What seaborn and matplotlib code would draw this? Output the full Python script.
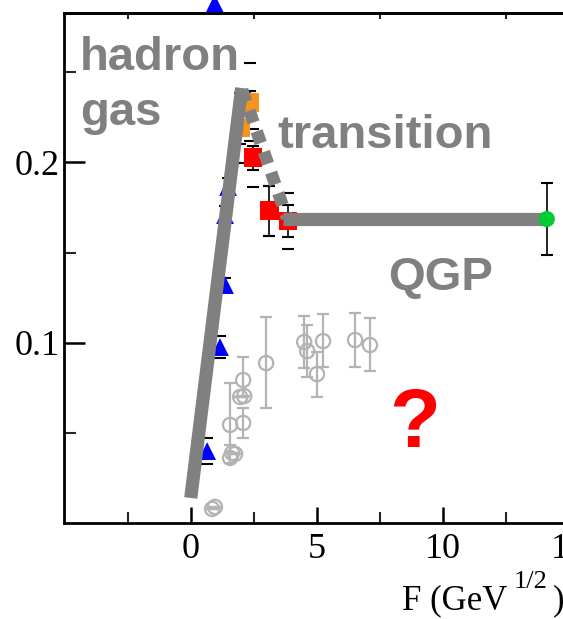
import numpy as np
import pandas as pd
import matplotlib
matplotlib.use("Agg")
import matplotlib.pyplot as plt
import seaborn as sns

# ---------------- data ----------------
# blue triangles
tri_x = [1.48, 1.36, 1.36, 1.16, 0.65, 0.95]
tri_y = [0.1864, 0.1708, 0.1320, 0.0976, 0.0399, 0.2882]
tri_err = [0.005, 0.005, 0.004, 0.006, 0.007, 0.005]
# orange squares
org_x = [2.35, 1.96]
org_y = [0.2335, 0.2191]
org_err = [0.006, 0.009]
org_sys = [0.0216, 0.0194]
# red squares
red_x = [2.47, 3.11, 3.86]
red_y = [0.2025, 0.1731, 0.1675]
red_err = [0.0065, 0.0138, 0.0088]
red_sys = [0.016, 0.0138, 0.0155]
# green point
grn_x = [14.13]
grn_y = [0.1686]
grn_err = [0.020]
# gray open circles
circ_x = [2.99, 1.56, 2.08, 1.96, 2.12, 2.08, 1.64, 1.76, 1.56,
          4.50, 4.62, 5.01, 5.25, 6.52, 7.11, 0.96, 0.85]
circ_y = [0.0887, 0.0544, 0.0793, 0.0699, 0.0704, 0.0555, 0.0388, 0.0383, 0.0361,
          0.1004, 0.0954, 0.0826, 0.1009, 0.1015, 0.0987, 0.0089, 0.0078]
circ_err_lo = [0.0250, 0.0111, 0.0094, 0.0, 0.0, 0.0083, 0.0, 0.0, 0.0030,
               0.0144, 0.0144, 0.0128, 0.0144, 0.0150, 0.0144, 0.0, 0.0]
circ_err_hi = [0.0255, 0.0233, 0.0128, 0.0, 0.0, 0.0083, 0.0, 0.0, 0.0030,
               0.0144, 0.0144, 0.0122, 0.0150, 0.0150, 0.0150, 0.0, 0.0]
# schematic lines
hg_x = [0.00, 2.02]
hg_y = [0.0139, 0.2413]
tr_x = [2.04, 3.82]
tr_y = [0.2402, 0.1692]
qgp_x = [3.66, 14.13]
qgp_y = [0.1686, 0.1686]

x_ticks = [0, 5, 10, 15]
x_ticklabels = ["0", "5", "10", "15"]
y_ticks = [0.1, 0.2]
y_ticklabels = ["0.1", "0.2"]

# ---------------- figure ----------------
sns.set_theme(style="ticks")
plt.rcParams["font.family"] = ["Liberation Serif", "DejaVu Serif"]

W, H = 563, 619
fig = plt.figure(figsize=(W / 100, H / 100), dpi=100)
X0, X1 = -5.03, 17.0
PXU = 25.2
ax = fig.add_axes([64 / W, (H - 523) / H, (X1 - X0) * PXU / W, 510 / H])
ax.set_xlim(X0, X1)
ax.set_ylim(0, 0.2829)

GRAY = "#808080"
CGRAY = "#b3b3b3"

# gray circles with error bars
ax.errorbar(circ_x, circ_y, yerr=[circ_err_lo, circ_err_hi], fmt="none",
            ecolor=CGRAY, elinewidth=1.6, capsize=4.5, capthick=1.6, zorder=2)
sns.scatterplot(x=circ_x, y=circ_y, ax=ax, marker="o", s=105,
                facecolor="none", edgecolor=CGRAY, linewidth=1.6, zorder=3)

# blue triangles
ax.errorbar(tri_x, tri_y, yerr=tri_err, fmt="none", ecolor="black",
            elinewidth=0.0, capsize=4, capthick=1.5, zorder=2)
sns.scatterplot(x=tri_x, y=tri_y, ax=ax, marker="^", s=165, color="#0000ff",
                edgecolor="none", zorder=3, clip_on=False)

# orange squares
ax.errorbar(org_x, org_y, yerr=org_sys, fmt="none", ecolor="black",
            elinewidth=0.0, capsize=4.5, capthick=1.5, zorder=2)
ax.errorbar(org_x, org_y, yerr=org_err, fmt="none", ecolor="black",
            elinewidth=1.2, capsize=4.5, capthick=1.5, zorder=2)
sns.scatterplot(x=org_x, y=org_y, ax=ax, marker="s", s=185, color="#f7941d",
                edgecolor="none", zorder=3)

# red squares
ax.errorbar(red_x, red_y, yerr=red_sys, fmt="none", ecolor="black",
            elinewidth=0.0, capsize=4.5, capthick=1.5, zorder=2)
ax.errorbar(red_x, red_y, yerr=red_err, fmt="none", ecolor="black",
            elinewidth=1.2, capsize=4.5, capthick=1.5, zorder=2)
sns.scatterplot(x=red_x, y=red_y, ax=ax, marker="s", s=185, color="#ff0000",
                edgecolor="none", zorder=3)

# green point
ax.errorbar(grn_x, grn_y, yerr=grn_err, fmt="none", ecolor="black",
            elinewidth=1.2, capsize=4.5, capthick=1.5, zorder=2)
sns.scatterplot(x=grn_x, y=grn_y, ax=ax, marker="o", s=135, color="#00cc33",
                edgecolor="none", zorder=5)

# schematic lines
sns.lineplot(x=hg_x, y=hg_y, ax=ax, color=GRAY, linewidth=9.5,
             solid_capstyle="butt", zorder=4)
sns.lineplot(x=qgp_x, y=qgp_y, ax=ax, color=GRAY, linewidth=9.5,
             solid_capstyle="butt", zorder=4)
ax.plot(tr_x, tr_y, color=GRAY, linewidth=9.0, zorder=4,
        linestyle=(0, (1.0, 0.75)), dash_capstyle="butt")

# annotations
tkw = dict(family=["Liberation Sans", "DejaVu Sans"], fontweight="bold",
           color=GRAY, fontsize=34, zorder=6)
ax.text(-4.39, 0.2512, "hadron", ha="left", va="baseline", **tkw)
ax.text(-4.39, 0.2207, "gas", ha="left", va="baseline", **tkw)
ax.text(3.42, 0.2080, "transition", ha="left", va="baseline", **tkw)
ax.text(7.83, 0.1292, "QGP", ha="left", va="baseline", **tkw)
ax.text(8.90, 0.0544, "?", ha="center", va="center",
        family=["Liberation Sans", "DejaVu Sans"], fontweight="bold",
        color="#ff0000", fontsize=60, zorder=6)

# axes styling
for side in ["left", "bottom", "top", "right"]:
    ax.spines[side].set_linewidth(2.0)
    ax.spines[side].set_color("black")

ax.set_xticks(x_ticks)
ax.set_xticklabels(x_ticklabels)
ax.set_xticks([-2.5, 2.5, 7.5, 12.5], minor=True)
ax.set_yticks(y_ticks)
ax.set_yticklabels(y_ticklabels)
ax.set_yticks([0.05, 0.15, 0.25], minor=True)
ax.tick_params(axis="x", which="major", direction="in", length=11.5, width=1.8,
               labelsize=26, pad=7, top=False, colors="black")
ax.tick_params(axis="x", which="minor", direction="in", length=8, width=1.5,
               top=False)
ax.tick_params(axis="y", which="major", direction="in", length=15, width=1.8,
               labelsize=26, pad=3, right=False, colors="black")
ax.tick_params(axis="y", which="minor", direction="in", length=8.5, width=1.5,
               right=False)

sec = ax.secondary_xaxis("top")
sec.set_xticks([-2.5, 2.5, 7.5, 12.5])
sec.set_xticklabels([])
sec.tick_params(direction="in", length=4.5, width=1.5)
sec.spines["top"].set_linewidth(2.0)

ax.set_xlabel("")
ax.set_ylabel("")
fig.text(402 / W, 1 - 601 / H, "F (GeV", ha="left", va="center",
         fontsize=25, color="black")
fig.text(514 / W, 1 - 582 / H, "1/2", ha="left", va="center",
         fontsize=19, color="black")
fig.text(553 / W, 1 - 601 / H, ")", ha="left", va="center",
         fontsize=25, color="black")

fig.savefig("out.png", dpi=100)
